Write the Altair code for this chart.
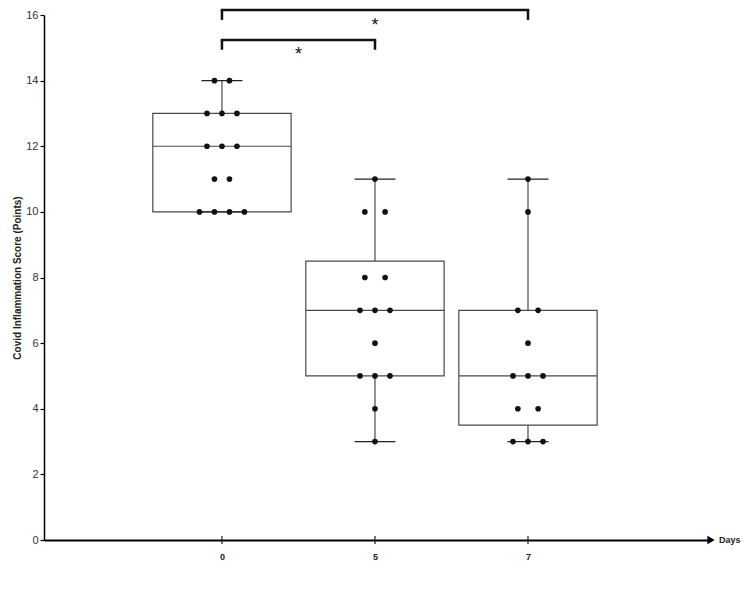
import altair as alt
import pandas as pd
import numpy as np

# ---- data ----
days = ["0", "5", "7"]
day0 = [14, 14, 13, 13, 13, 12, 12, 12, 11, 11, 10, 10, 10, 10]
day5 = [11, 10, 10, 8, 8, 7, 7, 7, 6, 5, 5, 5, 4, 3]
day7 = [11, 10, 7, 7, 6, 5, 5, 5, 4, 4, 3, 3, 3]
groups = [day0, day5, day7]

y_ticks = list(range(0, 17, 2))
y_title = "Covid Inflammation Score (Points)"
x_title = "Days"

# significance comparisons (group index pairs), bracket levels and labels
comparisons = [(0, 2), (0, 1)]
bracket_top = [16.15, 15.24]
bracket_drop = 0.30
star_y = [15.50, 14.62]
star_label = ["*", "*"]

# ---- layout parameters ----
X_MIN, X_MAX = -1.163, 3.196
BOX_HALF = 0.452
CAP_HALF = 0.134
DOT_STEP = 0.098
LINE = "#4a4a4a"
FONT = "Liberation Sans"

# ---- derived tables ----
rows = []
for i, vals in enumerate(groups):
    a = np.array(vals, dtype=float)
    q1, med, q3 = np.percentile(a, [25, 50, 75], method="weibull")
    rows.append(dict(x=i, lo=i - BOX_HALF, hi=i + BOX_HALF,
                     clo=i - CAP_HALF, chi=i + CAP_HALF,
                     q1=q1, med=med, q3=q3, mn=a.min(), mx=a.max()))
summary = pd.DataFrame(rows)

pts = []
for i, vals in enumerate(groups):
    for v in sorted(set(vals), reverse=True):
        n = vals.count(v)
        step = DOT_STEP * (1.35 if (n == 2 and i > 0) else 1.0)
        for k in range(n):
            pts.append(dict(x=i + (k - (n - 1) / 2) * step, y=v))
points = pd.DataFrame(pts)

br = []
for (a, b), top, sy, lab in zip(comparisons, bracket_top, star_y, star_label):
    br.append(dict(x1=a, x2=b, top=top, bot=top - bracket_drop,
                   mid=(a + b) / 2, sy=sy, lab=lab))
brackets = pd.DataFrame(br)

ticks_df = pd.DataFrame({"x": list(range(len(days))), "y": [0] * len(days)})
end_df = pd.DataFrame({"x": [X_MAX], "y": [0], "t": [x_title]})

xs = alt.Scale(domain=[X_MIN, X_MAX], nice=False, zero=False)
ys = alt.Scale(domain=[0, 16], nice=False, zero=True)

label_arr = "[" + ",".join("'%s'" % d for d in days) + "]"
x_axis = alt.Axis(values=list(range(len(days))), title=None, grid=False,
                  domain=True, domainColor="black", domainWidth=2,
                  ticks=False, labelExpr=label_arr + "[datum.value]",
                  labelFont=FONT, labelFontWeight="bold", labelFontSize=9,
                  labelColor="#222", labelPadding=12)
y_axis = alt.Axis(values=y_ticks, title=y_title, grid=False,
                  domain=True, domainColor="black", domainWidth=1.5,
                  ticks=True, tickColor="black", tickSize=4, tickWidth=1.2,
                  labelFont=FONT, labelFontSize=11, labelColor="#333",
                  labelPadding=2, titleFont=FONT, titleFontSize=10,
                  titleFontWeight="bold", titleColor="#222", titlePadding=3)

base_box = alt.Chart(summary)

boxes = base_box.mark_rect(fill="white", stroke=LINE, strokeWidth=1.2).encode(
    x=alt.X("lo:Q", scale=xs, axis=x_axis), x2="hi:Q",
    y=alt.Y("q1:Q", scale=ys, axis=y_axis), y2="q3:Q")

median = base_box.mark_rule(color=LINE, strokeWidth=1.2).encode(
    x=alt.X("lo:Q", scale=xs, axis=x_axis), x2="hi:Q",
    y=alt.Y("med:Q", scale=ys, axis=y_axis))

wh_up = base_box.mark_rule(color=LINE, strokeWidth=1.2).encode(
    x=alt.X("x:Q", scale=xs, axis=x_axis),
    y=alt.Y("q3:Q", scale=ys, axis=y_axis), y2="mx:Q")
wh_dn = base_box.mark_rule(color=LINE, strokeWidth=1.2).encode(
    x=alt.X("x:Q", scale=xs, axis=x_axis),
    y=alt.Y("mn:Q", scale=ys, axis=y_axis), y2="q1:Q")
cap_up = base_box.mark_rule(color="#222", strokeWidth=1.2).encode(
    x=alt.X("clo:Q", scale=xs, axis=x_axis), x2="chi:Q",
    y=alt.Y("mx:Q", scale=ys, axis=y_axis))
cap_dn = base_box.mark_rule(color="#222", strokeWidth=1.2).encode(
    x=alt.X("clo:Q", scale=xs, axis=x_axis), x2="chi:Q",
    y=alt.Y("mn:Q", scale=ys, axis=y_axis))

dots = alt.Chart(points).mark_circle(color="#111", opacity=1, size=32).encode(
    x=alt.X("x:Q", scale=xs, axis=x_axis),
    y=alt.Y("y:Q", scale=ys, axis=y_axis))

xticks = alt.Chart(ticks_df).mark_tick(orient="vertical", size=8, thickness=1.5,
                                       color="black").encode(
    x=alt.X("x:Q", scale=xs, axis=x_axis),
    y=alt.Y("y:Q", scale=ys, axis=y_axis))

arrow = alt.Chart(end_df).mark_point(shape="triangle-right", filled=True,
                                     color="black", size=70, opacity=1).encode(
    x=alt.X("x:Q", scale=xs, axis=x_axis),
    y=alt.Y("y:Q", scale=ys, axis=y_axis))
days_lab = alt.Chart(end_df).mark_text(align="left", baseline="middle", dx=8,
                                       font=FONT, fontWeight="bold",
                                       fontSize=9, color="#222").encode(
    x=alt.X("x:Q", scale=xs, axis=x_axis),
    y=alt.Y("y:Q", scale=ys, axis=y_axis), text="t:N")

bb = alt.Chart(brackets)
br_h = bb.mark_rule(color="#111", strokeWidth=2.5, strokeCap="square").encode(
    x=alt.X("x1:Q", scale=xs, axis=x_axis), x2="x2:Q",
    y=alt.Y("top:Q", scale=ys, axis=y_axis))
br_l = bb.mark_rule(color="#111", strokeWidth=2.5).encode(
    x=alt.X("x1:Q", scale=xs, axis=x_axis),
    y=alt.Y("bot:Q", scale=ys, axis=y_axis), y2="top:Q")
br_r = bb.mark_rule(color="#111", strokeWidth=2.5).encode(
    x=alt.X("x2:Q", scale=xs, axis=x_axis),
    y=alt.Y("bot:Q", scale=ys, axis=y_axis), y2="top:Q")
stars = bb.mark_text(align="center", baseline="alphabetic", font=FONT,
                     fontSize=18, color="#111").encode(
    x=alt.X("mid:Q", scale=xs, axis=x_axis),
    y=alt.Y("sy:Q", scale=ys, axis=y_axis), text="lab:N")

chart = alt.layer(boxes, wh_up, wh_dn, cap_up, cap_dn, median, dots,
                  xticks, arrow, days_lab, br_h, br_l, br_r, stars).properties(
    width=667, height=525,
    background="white",
    autosize=alt.AutoSizeParams(type="none"),
    padding={"left": 36, "top": 7, "right": 31, "bottom": 45},
).configure_view(stroke=None)

chart.save("out.html", embed_options={"renderer": "svg", "actions": False})
